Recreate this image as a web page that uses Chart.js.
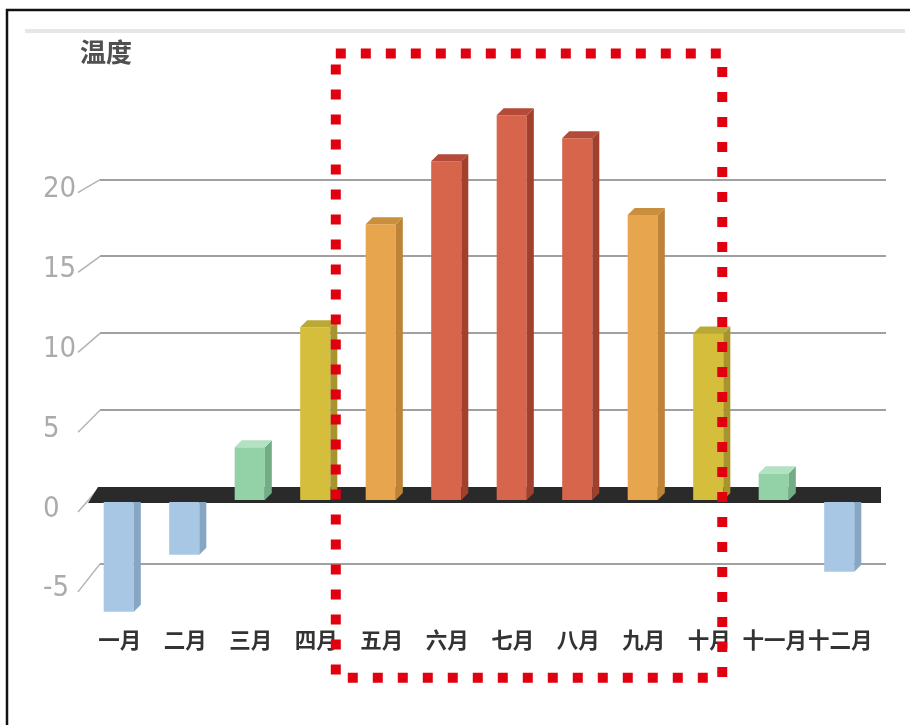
<!DOCTYPE html>
<html>
<head>
<meta charset="utf-8">
<script src="https://cdn.jsdelivr.net/npm/chart.js@4.4.1/dist/chart.umd.min.js"></script>
<style>
  html, body { margin: 0; padding: 0; background: #ffffff; }
  #wrap { position: relative; width: 910px; height: 725px; }
</style>
</head>
<body>
<div id="wrap"><canvas id="c" width="910" height="725"></canvas></div>
<script>
// ---- data ----
const months = ['一月', '二月', '三月', '四月', '五月', '六月', '七月', '八月', '九月', '十月', '十一月', '十二月'];
const temps = [-7.2, -3.5, 3.5, 11.3, 18.0, 22.1, 25.1, 23.6, 18.6, 10.9, 1.8, -4.6];
const yTicks = [-5, 0, 5, 10, 15, 20];
const yTitle = '温度';
const highlightFirst = 4;  // 五月
const highlightLast = 9;   // 十月

// ---- styles ----
const palette = {
  blue:   { front: '#a8c7e5', side: '#86a6c4', top: '#c0d8ee' },
  green:  { front: '#92d2a6', side: '#72ad86', top: '#b2e2c1' },
  yellow: { front: '#d4be3c', side: '#a8942c', top: '#bba936' },
  orange: { front: '#e7a64d', side: '#bd8338', top: '#c98f3f' },
  red:    { front: '#d6654b', side: '#a2402e', top: '#b44a37' }
};
function groupFor(v) {
  if (v < 0) return palette.blue;
  if (v < 5) return palette.green;
  if (v < 15) return palette.yellow;
  if (v < 20) return palette.orange;
  return palette.red;
}
const DX = -14, DY = 14, DEPTH = 7;

const threeD = {
  id: 'threeD',
  beforeDraw(chart) {
    const ctx = chart.ctx;
    ctx.save();
    ctx.strokeStyle = '#111';
    ctx.lineWidth = 2.5;
    ctx.beginPath();
    ctx.moveTo(7, 726); ctx.lineTo(7, 10); ctx.lineTo(912, 10);
    ctx.stroke();
    ctx.strokeStyle = '#e6e6e6';
    ctx.lineWidth = 4;
    ctx.beginPath();
    ctx.moveTo(25, 31); ctx.lineTo(905, 31);
    ctx.stroke();
    ctx.fillStyle = '#505050';
    ctx.font = 'bold 26px "Noto Sans CJK SC"';
    ctx.textAlign = 'left';
    ctx.textBaseline = 'middle';
    ctx.fillText(yTitle, 80, 52);
    ctx.restore();
  },
  beforeDatasetsDraw(chart) {
    const ctx = chart.ctx, ys = chart.scales.y, a = chart.chartArea;
    const y0 = ys.getPixelForValue(0);
    ctx.save();
    ctx.font = '29px "DejaVu Sans Condensed", "Liberation Sans Narrow", sans-serif';
    ctx.fillStyle = '#ababab';
    ctx.textAlign = 'left';
    ctx.textBaseline = 'middle';
    ctx.strokeStyle = '#b3b3b3';
    ctx.lineWidth = 1.5;
    yTicks.forEach(v => {
      const gy = ys.getPixelForValue(v);
      const ly = gy + 10 + (20 - v) * 0.6;
      ctx.fillText(String(v), 43, ly);
      ctx.beginPath();
      ctx.moveTo(78, ly + 3);
      ctx.lineTo(a.left, gy);
      ctx.stroke();
    });
    ctx.fillStyle = '#2a2a2a';
    ctx.beginPath();
    ctx.moveTo(a.left - 2, y0);
    ctx.lineTo(a.right - 5, y0);
    ctx.lineTo(a.right - 5, y0 + 16);
    ctx.lineTo(a.left - 12, y0 + 16);
    ctx.closePath();
    ctx.fill();
    ctx.restore();
    ctx.save();
    ctx.translate(DX, DY);
  },
  afterDatasetsDraw(chart) {
    const ctx = chart.ctx;
    const meta = chart.getDatasetMeta(0);
    meta.data.forEach((bar, i) => {
      const p = bar.getProps(['x', 'y', 'base', 'width'], true);
      const g = groupFor(temps[i]);
      const l = p.x - p.width / 2, r = p.x + p.width / 2;
      const top = Math.min(p.y, p.base), bot = Math.max(p.y, p.base);
      const neg = temps[i] < 0;
      ctx.fillStyle = g.side;
      ctx.beginPath();
      ctx.moveTo(r, top);
      ctx.lineTo(r + DEPTH, neg ? top : top - DEPTH);
      ctx.lineTo(r + DEPTH, bot - DEPTH);
      ctx.lineTo(r, bot);
      ctx.closePath();
      ctx.fill();
      if (!neg) {
        ctx.fillStyle = g.top;
        ctx.beginPath();
        ctx.moveTo(l, top);
        ctx.lineTo(l + DEPTH, top - DEPTH);
        ctx.lineTo(r + DEPTH, top - DEPTH);
        ctx.lineTo(r, top);
        ctx.closePath();
        ctx.fill();
      }
    });
    ctx.restore();
  },
  afterDraw(chart) {
    const ctx = chart.ctx, xs = chart.scales.x, ys = chart.scales.y;
    const step = xs.getPixelForValue(1) - xs.getPixelForValue(0);
    const left = xs.getPixelForValue(highlightFirst) - 0.9 * step;
    const right = xs.getPixelForValue(highlightLast);
    const top = ys.getPixelForValue(28.2);
    const bottom = ys.getPixelForValue(-12.4);
    ctx.save();
    ctx.strokeStyle = '#e0000f';
    ctx.lineWidth = 10;
    ctx.setLineDash([10, 15]);
    ctx.strokeRect(left, top, right - left, bottom - top);
    ctx.restore();
  }
};

new Chart(document.getElementById('c'), {
  type: 'bar',
  data: {
    labels: months,
    datasets: [{
      data: temps,
      backgroundColor: temps.map(v => groupFor(v).front),
      borderWidth: 0,
      barPercentage: 0.46,
      categoryPercentage: 1,
      clip: false
    }]
  },
  options: {
    responsive: false,
    devicePixelRatio: 1,
    animation: false,
    layout: { padding: { top: 72, right: 24, left: 0, bottom: 0 } },
    plugins: { legend: { display: false }, tooltip: { enabled: false }, title: { display: false } },
    scales: {
      x: {
        grid: { display: false, drawTicks: false },
        border: { display: false },
        ticks: {
          color: '#333333',
          font: { family: '"Noto Sans CJK SC"', size: 21.5, weight: 'bold' },
          padding: 17,
          autoSkip: false,
          maxRotation: 0,
          labelOffset: -13
        },
        afterFit: s => { s.height = 115; }
      },
      y: {
        min: -8,
        max: 27,
        afterBuildTicks: s => { s.ticks = yTicks.map(v => ({ value: v })); },
        ticks: { display: false },
        grid: {
          drawTicks: false,
          lineWidth: 2,
          color: c => (c.tick && c.tick.value !== 0) ? '#a0a0a0' : 'rgba(0,0,0,0)'
        },
        border: { display: false },
        afterFit: s => { s.width = 100; }
      }
    }
  },
  plugins: [threeD]
});
</script>
</body>
</html>
